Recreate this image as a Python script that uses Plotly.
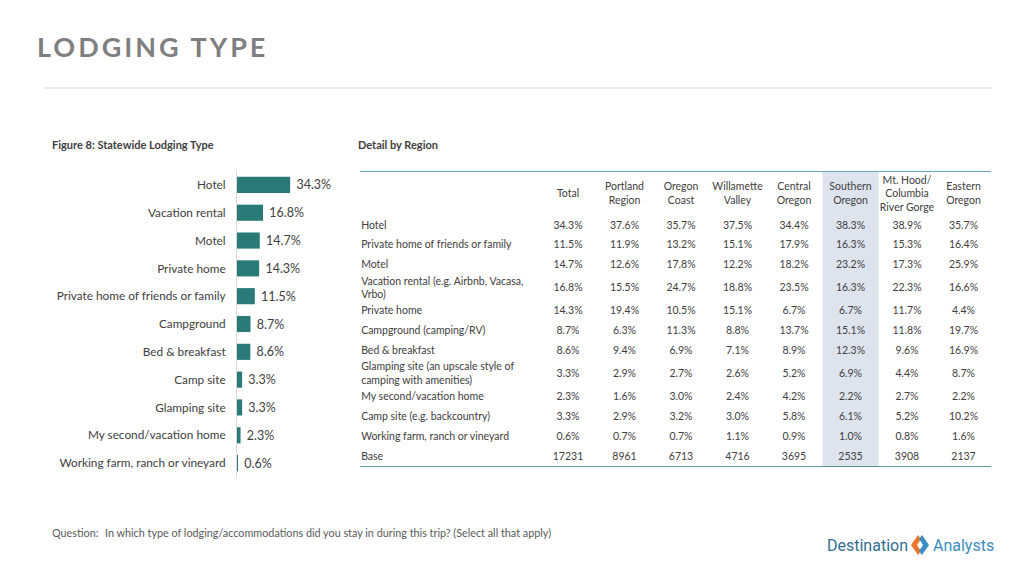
import plotly.graph_objects as go

# ---------------- data ----------------
bar_categories = ["Hotel", "Vacation rental", "Motel", "Private home",
                  "Private home of friends or family", "Campground",
                  "Bed & breakfast", "Camp site", "Glamping site",
                  "My second/vacation home", "Working farm, ranch or vineyard"]
bar_values = [34.3, 16.8, 14.7, 14.3, 11.5, 8.7, 8.6, 3.3, 3.3, 2.3, 0.6]

table_headers = ["Total", "Portland<br>Region", "Oregon<br>Coast",
                 "Willamette<br>Valley", "Central<br>Oregon", "Southern<br>Oregon",
                 "Mt. Hood/<br>Columbia<br>River Gorge", "Eastern<br>Oregon"]
table_rows = ["Hotel", "Private home of friends or family", "Motel",
              "Vacation rental (e.g. Airbnb, Vacasa,<br>Vrbo)", "Private home",
              "Campground (camping/RV)", "Bed & breakfast",
              "Glamping site (an upscale style of<br>camping with amenities)",
              "My second/vacation home", "Camp site (e.g. backcountry)",
              "Working farm, ranch or vineyard", "Base"]
total = [34.3, 11.5, 14.7, 16.8, 14.3, 8.7, 8.6, 3.3, 2.3, 3.3, 0.6]
portland = [37.6, 11.9, 12.6, 15.5, 19.4, 6.3, 9.4, 2.9, 1.6, 2.9, 0.7]
oregon_coast = [35.7, 13.2, 17.8, 24.7, 10.5, 11.3, 6.9, 2.7, 3.0, 3.2, 0.7]
willamette = [37.5, 15.1, 12.2, 18.8, 15.1, 8.8, 7.1, 2.6, 2.4, 3.0, 1.1]
central = [34.4, 17.9, 18.2, 23.5, 6.7, 13.7, 8.9, 5.2, 4.2, 5.8, 0.9]
southern = [38.3, 16.3, 23.2, 16.3, 6.7, 15.1, 12.3, 6.9, 2.2, 6.1, 1.0]
mt_hood = [38.9, 15.3, 17.3, 22.3, 11.7, 11.8, 9.6, 4.4, 2.7, 5.2, 0.8]
eastern = [35.7, 16.4, 25.9, 16.6, 4.4, 19.7, 16.9, 8.7, 2.2, 10.2, 1.6]
bases = [17231, 8961, 6713, 4716, 3695, 2535, 3908, 2137]
highlight_region = "Southern<br>Oregon"

# ---------------- styling ----------------
W, H = 1024, 576
FONT = "Lato"
TEAL = "#2a7b78"
TXT = "#404040"
HILITE = "#dde4ee"
TFONT = 10.5


def px(x):
    return x / W


def py(y):
    return 1 - y / H


fig = go.Figure()

# ---------- bar chart (x / y) ----------
fig.add_trace(go.Bar(
    x=bar_values, y=bar_categories, orientation="h",
    marker=dict(color=TEAL, line=dict(width=0)),
    text=[f" {v:.1f}%" for v in bar_values], textposition="outside",
    textfont=dict(family=FONT, size=12.5, color=TXT),
    cliponaxis=False, hoverinfo="skip", showlegend=False,
))

# ---------- detail table (x2 / y2) ----------
region_cols = [total, portland, oregon_coast, willamette, central, southern, mt_hood, eastern]

# row heights in "single-line row" units, from the number of text lines
HEADER_H = 2.28
row_h = [1 + 0.335 * label.count("<br>") for label in table_rows]
row_centers = []
acc = HEADER_H
for h in row_h:
    row_centers.append(acc + h / 2)
    acc += h
table_total = acc

col_x = list(range(1, len(region_cols) + 1))
x_lo = 1 - 208 / 56.5      # label column width in column units
x_hi = x_lo + 631 / 56.5

# highlighted column background
hl = table_headers.index(highlight_region) + 1
fig.add_trace(go.Bar(
    x=[hl], y=[table_total], base=0, width=0.995, xaxis="x2", yaxis="y2",
    marker=dict(color=HILITE, line=dict(width=0)), hoverinfo="skip", showlegend=False,
))

# row labels
fig.add_trace(go.Scatter(
    x=[x_lo + 0.02] * len(table_rows), y=row_centers, text=table_rows,
    mode="text", textposition="middle right", xaxis="x2", yaxis="y2",
    textfont=dict(family=FONT, size=TFONT, color=TXT), hoverinfo="skip", showlegend=False,
))

# header labels
fig.add_trace(go.Scatter(
    x=col_x, y=[HEADER_H / 2 + 0.05] * len(col_x), text=table_headers,
    mode="text", textposition="middle center", xaxis="x2", yaxis="y2",
    textfont=dict(family=FONT, size=TFONT, color=TXT), hoverinfo="skip", showlegend=False,
))

# values
vx, vy, vt = [], [], []
for ci, (col, base) in enumerate(zip(region_cols, bases)):
    cells = [f"{v:.1f}%" for v in col] + [str(base)]
    for ri, t in enumerate(cells):
        vx.append(col_x[ci])
        vy.append(row_centers[ri])
        vt.append(t)
fig.add_trace(go.Scatter(
    x=vx, y=vy, text=vt, mode="text", textposition="middle center",
    xaxis="x2", yaxis="y2",
    textfont=dict(family=FONT, size=TFONT, color=TXT), hoverinfo="skip", showlegend=False,
))

# table rules
fig.add_shape(type="line", xref="x2", yref="y2", x0=x_lo, x1=x_hi, y0=0, y1=0,
              line=dict(color="#6aa9b8", width=2))
fig.add_shape(type="line", xref="x2", yref="y2", x0=x_lo, x1=x_hi, y0=table_total, y1=table_total,
              line=dict(color="#2e7d7a", width=1.5))

fig.update_layout(
    width=W, height=H, margin=dict(l=0, r=0, t=0, b=0),
    paper_bgcolor="white", plot_bgcolor="white",
    font=dict(family=FONT, color=TXT),
    bargap=0.42,
    xaxis=dict(domain=[px(237), px(330)], range=[0, 60], visible=False, fixedrange=True),
    yaxis=dict(domain=[py(477), py(171)], autorange="reversed",
               showline=True, linecolor="#d9d9d9", linewidth=1,
               ticks="", ticklabelstandoff=8, showgrid=False,
               tickfont=dict(family=FONT, size=11.8, color=TXT), fixedrange=True),
    xaxis2=dict(domain=[px(360), px(991)], range=[x_lo, x_hi], visible=False,
                anchor="y2", fixedrange=True),
    yaxis2=dict(domain=[py(467), py(171)], range=[table_total, 0], visible=False,
                anchor="x2", fixedrange=True),
)

# title & rules
fig.add_annotation(x=px(35), y=py(46), xref="paper", yref="paper", xanchor="left", yanchor="middle",
                   text='<span style="letter-spacing:3px"><b>LODGING TYPE</b></span>', showarrow=False,
                   font=dict(family=FONT, size=27, color="#7f7f7f"))
fig.add_shape(type="line", xref="paper", yref="paper", x0=px(44), x1=px(992), y0=py(88), y1=py(88),
              line=dict(color="#d9d9d9", width=1.2))
fig.add_annotation(x=px(50), y=py(144), xref="paper", yref="paper", xanchor="left", yanchor="middle",
                   text="<b>Figure 8: Statewide Lodging Type</b>", showarrow=False,
                   font=dict(family=FONT, size=11, color="#404040"))
fig.add_annotation(x=px(356), y=py(144), xref="paper", yref="paper", xanchor="left", yanchor="middle",
                   text="<b>Detail by Region</b>", showarrow=False,
                   font=dict(family=FONT, size=11, color="#404040"))

# footer
fig.add_annotation(x=px(50), y=py(532), xref="paper", yref="paper", xanchor="left", yanchor="middle",
                   text="Question:", showarrow=False, font=dict(family=FONT, size=10.8, color="#595959"))
fig.add_annotation(x=px(103), y=py(532), xref="paper", yref="paper", xanchor="left", yanchor="middle",
                   text="In which type of lodging/accommodations did you stay in during this trip? (Select all that apply)",
                   showarrow=False, font=dict(family=FONT, size=10.8, color="#595959"))

# logo
fig.add_annotation(x=px(910), y=py(545), xref="paper", yref="paper", xanchor="right", yanchor="middle",
                   text="Destination", showarrow=False, font=dict(family="Roboto", size=16, color="#2f6f8f"))
fig.add_annotation(x=px(931), y=py(545), xref="paper", yref="paper", xanchor="left", yanchor="middle",
                   text="Analysts", showarrow=False, font=dict(family="Roboto", size=16, color="#3a8dbf"))
fig.add_shape(type="path", xref="paper", yref="paper",
              path=f"M {px(918)},{py(535)} L {px(911)},{py(545)} L {px(918)},{py(555)} L {px(921)},{py(551)} L {px(917)},{py(545)} L {px(921)},{py(539)} Z",
              fillcolor="#e8762d", line=dict(width=0))
fig.add_shape(type="path", xref="paper", yref="paper",
              path=f"M {px(922)},{py(535)} L {px(929)},{py(545)} L {px(922)},{py(555)} L {px(919)},{py(551)} L {px(923)},{py(545)} L {px(919)},{py(539)} Z",
              fillcolor="#3a8dbf", line=dict(width=0))

fig.write_html("out.html", config={"displayModeBar": False},
               post_script="document.body.style.margin='0';")
